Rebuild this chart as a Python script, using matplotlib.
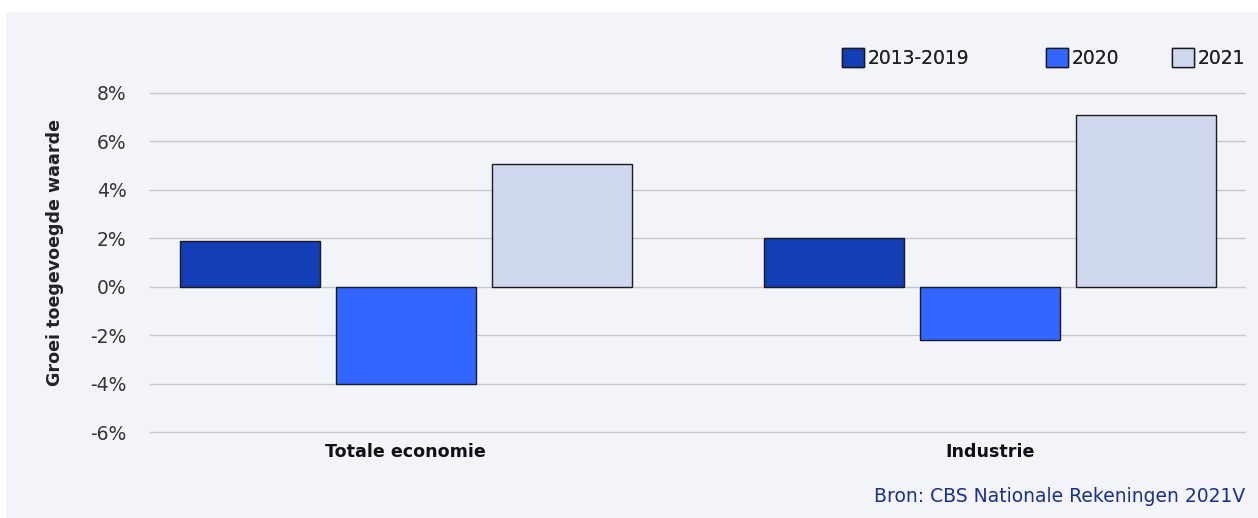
import matplotlib
matplotlib.use("Agg")
import matplotlib.pyplot as plt
from matplotlib.patches import Rectangle, Patch
import numpy as np

plt.rcParams['font.family'] = ['DejaVu Sans']

categories = ["Totale economie", "Industrie"]
series = ["2013-2019", "2020", "2021"]
values_2013_2019 = [1.9, 2.0]
values_2020 = [-4.0, -2.2]
values_2021 = [5.05, 7.1]
yticks = [-6, -4, -2, 0, 2, 4, 6, 8]
ytick_labels = ["-6%", "-4%", "-2%", "0%", "2%", "4%", "6%", "8%"]
colors = ["#133EB5", "#3366FF", "#D0D8F0"]

W, H = 1258, 518
fig = plt.figure(figsize=(W / 100, H / 100), dpi=100, facecolor="white")
bg = Rectangle((6 / W, 0), 1 - 6 / W, 1 - 12 / H, transform=fig.transFigure,
               facecolor="#F3F4F9", edgecolor="none", zorder=-10)
fig.patches.append(bg)

ax = fig.add_axes([150 / W, 1 - 432 / H, (1245 - 150) / W, (432 - 93) / H])
ax.set_facecolor("none")
ax.set_zorder(1)

x = np.arange(len(categories))
width = 0.24
step = 0.267
all_vals = [values_2013_2019, values_2020, values_2021]
for i, (vals, c) in enumerate(zip(all_vals, colors)):
    ax.bar(x + (i - 1) * step, vals, width=width, color=c, edgecolor="#1a1a1a",
           linewidth=1.0, zorder=3)

ax.set_ylim(-6, 8)
ax.set_xlim(-0.438, 1.437)
ax.set_yticks(yticks)
ax.set_yticklabels(ytick_labels, fontsize=13.5, color="#333333")
ax.set_xticks(x)
ax.set_xticklabels(categories, fontsize=12.6, fontweight="bold", color="#111111")
ax.tick_params(axis="x", length=0, pad=8)
ax.tick_params(axis="y", length=0, pad=17)
ax.grid(axis="y", color="#C8C8C8", linewidth=1.0, zorder=0)
for tk in ax.yaxis.get_major_ticks():
    tk.gridline.set_clip_on(False)
for s in ax.spines.values():
    s.set_visible(False)

fig.text(55 / W, 1 - 252 / H, "Groei toegevoegde waarde", rotation=90,
         fontsize=12.6, fontweight="bold", color="#222222",
         ha="center", va="center")

# legend entries, each placed separately
legend_x = [842 / W, 1046 / W, 1172 / W]
for lbl, c, lx in zip(series, colors, legend_x):
    leg = fig.legend(handles=[Patch(facecolor=c, edgecolor="#1a1a1a", linewidth=1.0)],
                     labels=[lbl], loc="center left", bbox_to_anchor=(lx, 1 - 58 / H),
                     frameon=False, fontsize=13.5, handlelength=1.15, handleheight=1.15,
                     handletextpad=0.2, borderpad=0, borderaxespad=0)
    for t in leg.get_texts():
        t.set_color("#222222")
    fig.add_artist(leg)

fig.text(1245 / W, 1 - 496 / H, "Bron: CBS Nationale Rekeningen 2021V",
         fontsize=13.5, color="#1A2F8F", ha="right", va="center")

fig.savefig("out.png", dpi=100, facecolor="white")
